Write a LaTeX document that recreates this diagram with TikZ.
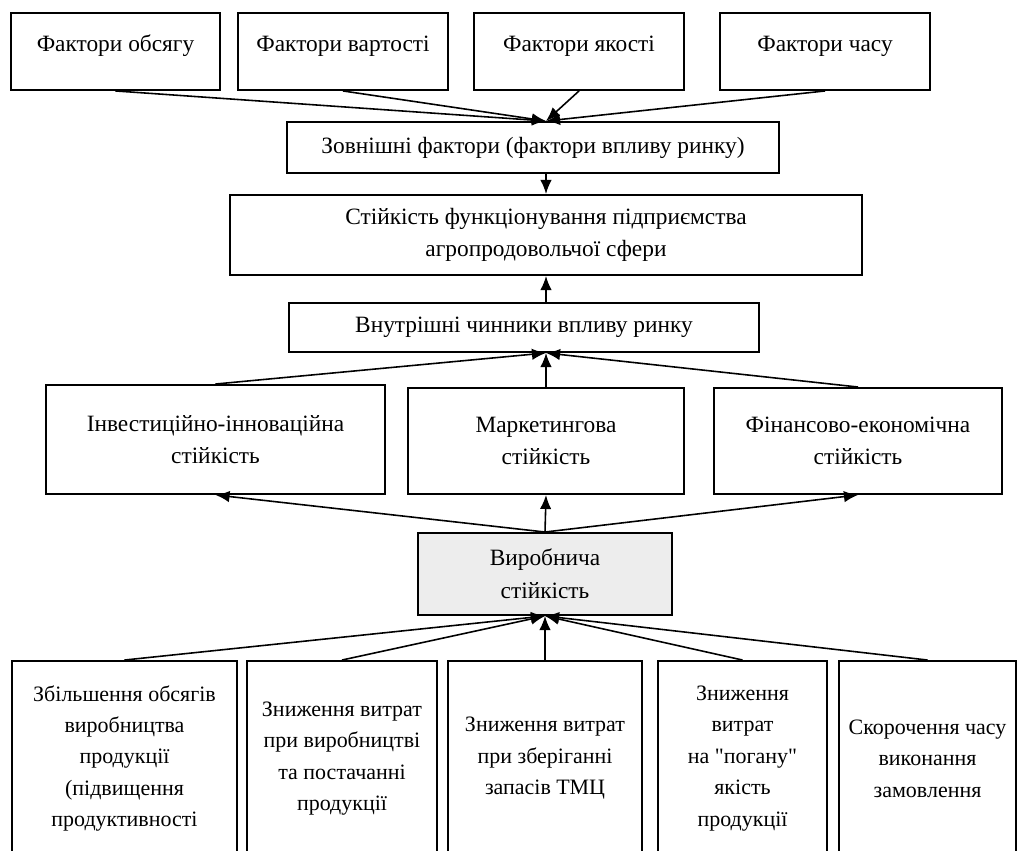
\documentclass[tikz,border=0pt]{standalone}
\usepackage{fontspec}
\setmainfont{Liberation Serif}[Ligatures=TeXOff]
\usetikzlibrary{arrows.meta}

\begin{document}
\begin{tikzpicture}[
  blk/.style={draw, rectangle, align=center, inner sep=2pt, line width=1.1pt,
    font=\fontsize{13.3}{18.5}\selectfont},
  tblk/.style={blk, text depth=0.32cm},
  sblk/.style={blk, font=\fontsize{12.5}{17.9}\selectfont},
  gblk/.style={blk, fill=black!7},
  link/.style={->, line width=0.9pt},
  >={Latex[length=8pt,width=6.5pt]}
]
\useasboundingbox (0,0) rectangle (20.38,17);

% market factors
\node[tblk, minimum width=4.18cm, minimum height=1.54cm] (f1) at (2.31,15.97) {Фактори обсягу};
\node[tblk, minimum width=4.2cm, minimum height=1.54cm] (f2) at (6.86,15.97) {Фактори вартості};
\node[tblk, minimum width=4.2cm, minimum height=1.54cm] (f3) at (11.58,15.97) {Фактори якості};
\node[tblk, minimum width=4.2cm, minimum height=1.54cm] (f4) at (16.5,15.97) {Фактори часу};

\node[blk, minimum width=9.84cm, minimum height=1.02cm] (ext) at (10.66,14.05)
  {Зовнішні фактори (фактори впливу ринку)};
\node[blk, minimum width=12.64cm, minimum height=1.6cm] (stab) at (10.92,12.3)
  {Стійкість функціонування підприємства\\агропродовольчої сфери};
\node[blk, minimum width=9.4cm, minimum height=0.98cm] (vn) at (10.48,10.45)
  {Внутрішні чинники впливу ринку};

% kinds of stability
\node[blk, minimum width=6.78cm, minimum height=2.18cm] (inv) at (4.31,8.21)
  {Інвестиційно-інноваційна\\стійкість};
\node[blk, minimum width=5.52cm, minimum height=2.12cm] (mkt) at (10.92,8.18)
  {Маркетингова\\стійкість};
\node[blk, minimum width=5.76cm, minimum height=2.12cm] (fin) at (17.16,8.18)
  {Фінансово-економічна\\стійкість};

\node[gblk, minimum width=5.08cm, minimum height=1.64cm] (prod) at (10.9,5.52)
  {Виробнича\\стійкість};

% ways to reach it
\node[sblk, minimum width=4.5cm, minimum height=3.9cm] (b1) at (2.49,1.83)
  {Збільшення обсягів\\виробництва\\продукції\\(підвищення\\продуктивності};
\node[sblk, minimum width=3.8cm, minimum height=3.9cm] (b2) at (6.84,1.83)
  {Зниження витрат\\при виробництві\\та постачанні\\продукції};
\node[sblk, minimum width=3.88cm, minimum height=3.9cm] (b3) at (10.9,1.83)
  {Зниження витрат\\при зберіганні\\запасів ТМЦ};
\node[sblk, minimum width=3.38cm, minimum height=3.9cm] (b4) at (14.85,1.83)
  {Зниження\\витрат\\на "погану"\\якість\\продукції};
\node[sblk, minimum width=3.54cm, minimum height=3.9cm] (b5) at (18.55,1.83)
  {Скорочення часу\\виконання\\замовлення};

\foreach \n in {f1,f2,f3,f4}
  \draw[link] (\n.south) -- (ext.north -| stab.north);
\draw[link] (ext.south -| stab.north) -- (stab.north);
\draw[link] (vn.north -| stab.south) -- (stab.south);

\foreach \n in {inv,mkt,fin}
  \draw[link] (\n.north) -- (vn.south -| mkt.north);
\foreach \n in {inv,mkt,fin}
  \draw[link] (prod.north) -- (\n.south);

\foreach \n in {b1,b2,b3,b4,b5}
  \draw[link] (\n.north) -- (prod.south);
\end{tikzpicture}
\end{document}
